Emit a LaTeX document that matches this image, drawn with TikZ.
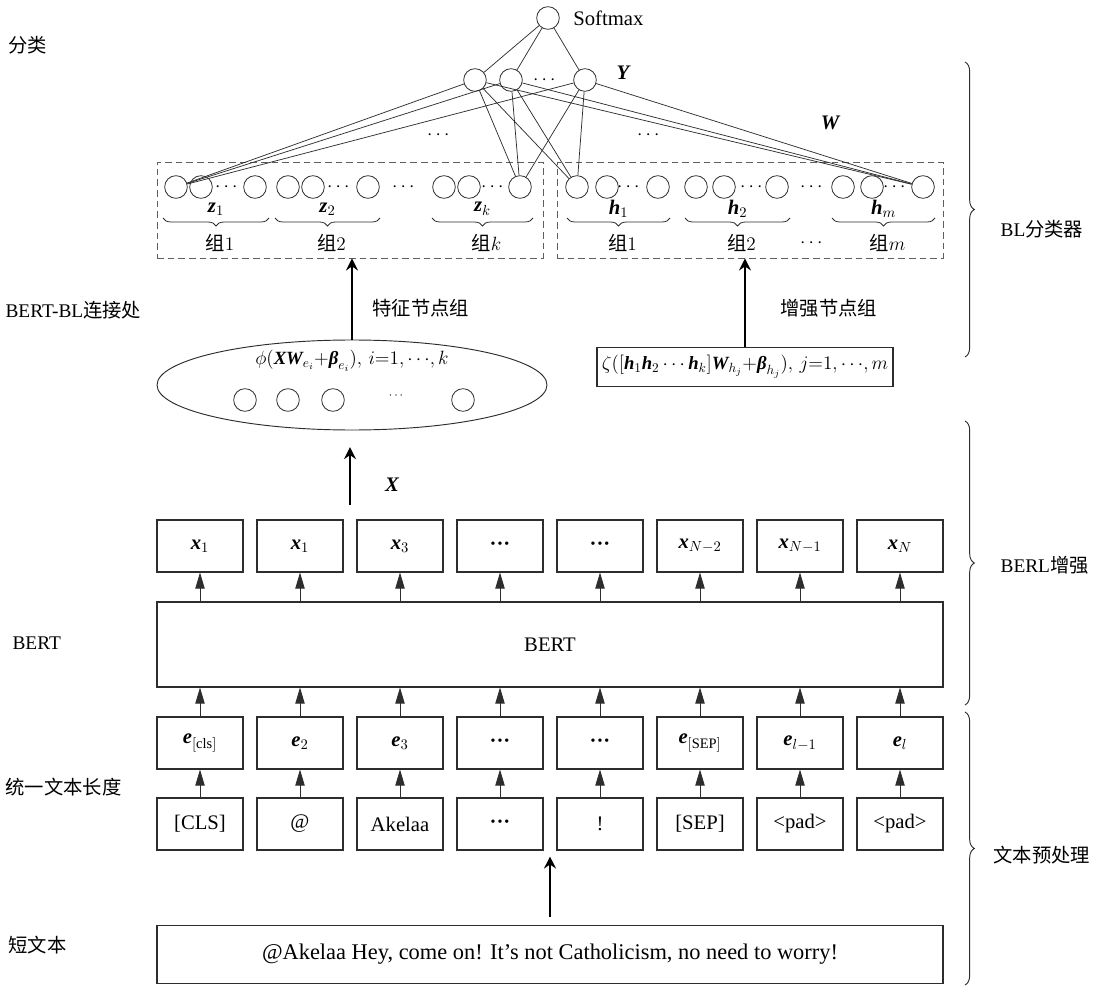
\documentclass[tikz,border=0pt]{standalone}
\usepackage{amsmath}
\usepackage{fontspec}
\setmainfont{Liberation Serif}
\newfontfamily\cjk{Noto Sans CJK SC}
\usepackage{tikz}
\usetikzlibrary{arrows.meta,positioning,calc,shapes.geometric,decorations.pathreplacing}
\definecolor{lineColor}{RGB}{45,45,45}
\definecolor{dashColor}{RGB}{95,95,95}
\newcommand{\grpword}{{\cjk\fontsize{14.5}{17}\selectfont 组}}
\newcommand{\bvec}[1]{\text{\bfseries\itshape #1}}
\newcommand{\bdots}{\text{\bfseries ···}}

\begin{document}
\begin{tikzpicture}[
  x=0.75pt, y=-0.75pt,
  font=\fontsize{15.5}{18}\selectfont,
  neuron/.style={circle, draw=lineColor, minimum size=17pt, inner sep=0pt, line width=0.6pt},
  tokbox/.style={draw=lineColor, minimum width=64.5pt, minimum height=39pt, inner sep=0pt, line width=0.8pt},
  widebox/.style={draw=lineColor, minimum width=589.5pt, inner sep=0pt, line width=0.8pt},
  groupbox/.style={draw=dashColor, dash pattern=on 5pt off 3pt, minimum width=289.5pt, minimum height=72pt, line width=0.7pt},
  cnlabel/.style={font=\cjk\fontsize{14.5}{17}\selectfont, anchor=west, inner sep=1pt},
  formula/.style={font=\fontsize{14}{17}\selectfont, inner sep=2pt},
  link/.style={draw=lineColor, line width=0.55pt},
  grpbrace/.style={decorate, decoration={brace, mirror, amplitude=6pt}, line width=0.6pt, draw=lineColor},
  partbrace/.style={decorate, decoration={brace, amplitude=7pt}, line width=0.7pt, draw=lineColor},
  smallarrow/.style={-{Triangle[length=12pt, width=7pt]}, line width=0.6pt, draw=lineColor},
  bigarrow/.style={-{Stealth[length=9pt, width=9pt, inset=3pt]}, line width=1.3pt, draw=black}
]
\useasboundingbox (0,0) rectangle (1099,987);

% ------------------------------------------------------------------
% Output layer
% ------------------------------------------------------------------
\node[neuron] (smax) at (548,18) {};
\node[right=9pt of smax, inner sep=1pt] (smaxlab) {Softmax};
\node[neuron] (y1) at (475,80) {};
\node[neuron] (y2) at (511,80) {};
\node[neuron] (y3) at (585,80) {};
\node (ydots) at (546,80) {$\cdots$};
\node (ylab) at (623,73) {$\bvec{Y}$};
\foreach \n in {y1,y2,y3}
  \draw[link] (smax) -- (\n);

% ------------------------------------------------------------------
% Feature / enhancement node groups
% ------------------------------------------------------------------
\node[groupbox] (zbox) at (350,210) {};
\node[groupbox] (hbox) at (750,210) {};

\foreach \x/\n in {176/za, 201/zb, 255/zc, 288/zd, 313/ze, 368/zf, 444/zg, 469/zh, 520/zk,
                   577/ha, 607/hb, 658/hc, 696/hd, 724/he, 777/hf, 843/hg, 872/hh, 923/hm}
  \node[neuron] (\n) at (\x,187) {};
\foreach \x [count=\i] in {228,340,405,494,630,753,813,896}
  \node (rowdots\i) at (\x,187) {$\cdots$};

\foreach \s in {y1,y2,y3}
  \foreach \t in {za,zk,ha,hm}
    \draw[link] (\s) -- (\t);

\node (wdotsl) at (440,135) {$\cdots$};
\node (wdotsr) at (650,135) {$\cdots$};
\node (wlab) at (830,123) {$\bvec{W}$};

\foreach \a/\b/\lab/\grp [count=\i] in {163/269/\bvec{z}_1/1, 275/380/\bvec{z}_2/2, 432/533/\bvec{z}_k/k,
                                        567/670/\bvec{h}_1/1, 685/790/\bvec{h}_2/2, 832/935/\bvec{h}_m/m} {
  \draw[grpbrace] (\a,218) -- (\b,218);
  \node[inner sep=0pt] (glab\i) at ({(\a+\b)/2},209) {$\lab$};
  \node (gnum\i) at ({(\a+\b)/2+4},243) {\grpword$\grp$};
}
\node (gdots) at (813,243) {$\cdots$};

% ------------------------------------------------------------------
% BERT-BL junction
% ------------------------------------------------------------------
\node[ellipse, draw=lineColor, minimum width=292.5pt, minimum height=67.5pt, line width=0.7pt] (feat) at (352,385) {};
\node[formula] (featf) at (352,361) {$\phi(\bvec{XW}_{e_i}{+}\bvec{β}_{e_i}),\, i{=}1,\cdots\!,k$};
\foreach \x/\n in {245/f1, 288/f2, 333/f3, 463/f4}
  \node[neuron] (\n) at (\x,400) {};
\node (fdots) at (397,396) {\small$\cdots$};

\node[draw=lineColor, minimum width=222pt, minimum height=29pt, line width=0.8pt, formula] (enh) at (745,367)
  {$\zeta([\bvec{h}_1\bvec{h}_2\cdots\bvec{h}_k]\bvec{W}_{h_j}{+}\bvec{β}_{h_j}),\, j{=}1,\cdots\!,m$};

\draw[bigarrow] (feat.north) -- (feat.north |- zbox.south);
\draw[bigarrow] (enh.north) -- (enh.north |- hbox.south);
\node[cnlabel] (featlab) at (371,308) {特征节点组};
\node[cnlabel] (enhlab) at (779,308) {增强节点组};

% ------------------------------------------------------------------
% BERT encoder
% ------------------------------------------------------------------
\foreach \lab [count=\i] in {\bvec{x}_1, \bvec{x}_1, \bvec{x}_3, \bdots, \bdots,
                             \bvec{x}_{N-2}, \bvec{x}_{N-1}, \bvec{x}_N}
  \node[tokbox] (x\i) at ({100+100*\i},546) {$\lab$};

\coordinate (xgap) at ($(x2.north east)!0.5!(x3.north west)$);
\draw[bigarrow, shorten <=11pt, shorten >=12.5pt] (xgap) -- (xgap |- feat.south);
\node (xlab) at (392,485) {$\bvec{X}$};

\node[widebox, minimum height=63.75pt] (bert) at (550,644.5) {BERT};

\foreach \lab [count=\i] in {\bvec{e}_{\mathrm{[cls]}}, \bvec{e}_2, \bvec{e}_3, \bdots, \bdots,
                             \bvec{e}_{\mathrm{[SEP]}}, \bvec{e}_{l-1}, \bvec{e}_l}
  \node[tokbox] (e\i) at ({100+100*\i},743) {$\lab$};

\foreach \lab [count=\i] in {{[CLS]}, @, Akelaa, $\bdots$, !, {[SEP]}, <pad>, <pad>}
  \node[tokbox] (t\i) at ({100+100*\i},824) {\lab};

\foreach \i in {1,...,8} {
  \draw[smallarrow] (bert.north -| x\i.south) -- (x\i.south);
  \draw[smallarrow] (e\i.north) -- (bert.south -| e\i.north);
  \draw[smallarrow] (t\i.north) -- (e\i.south);
}

% ------------------------------------------------------------------
% Short text input
% ------------------------------------------------------------------
\node[widebox, minimum height=44pt, font=\fontsize{16.8}{19}\selectfont] (short) at (550,954.5)
  {@Akelaa Hey, come on! It’s not Catholicism, no need to worry!};
\coordinate (tgap) at ($(t4.south east)!0.5!(t5.south west)$);
\draw[bigarrow, shorten <=6pt, shorten >=4.5pt] (short.north -| tgap) -- (tgap);

% ------------------------------------------------------------------
% Side labels and braces
% ------------------------------------------------------------------
\node[cnlabel] (lcls) at (7,45) {分类};
\node[cnlabel] (lconn) at (4,310) {{\rmfamily BERT-BL}连接处};
\node[cnlabel] (lbert) at (11,643) {\rmfamily BERT};
\node[cnlabel] (llen) at (4,787) {统一文本长度};
\node[cnlabel] (lshort) at (7,945) {短文本};

\draw[partbrace] (965,62) -- (965,357);
\draw[partbrace] (965,421) -- (965,705);
\draw[partbrace] (965,712) -- (965,985);
\node[cnlabel] (rbl) at (999,229) {{\rmfamily BL}分类器};
\node[cnlabel] (rberl) at (999,565) {{\rmfamily BERL}增强};
\node[cnlabel] (rpre) at (992,855) {文本预处理};

\end{tikzpicture}
\end{document}
